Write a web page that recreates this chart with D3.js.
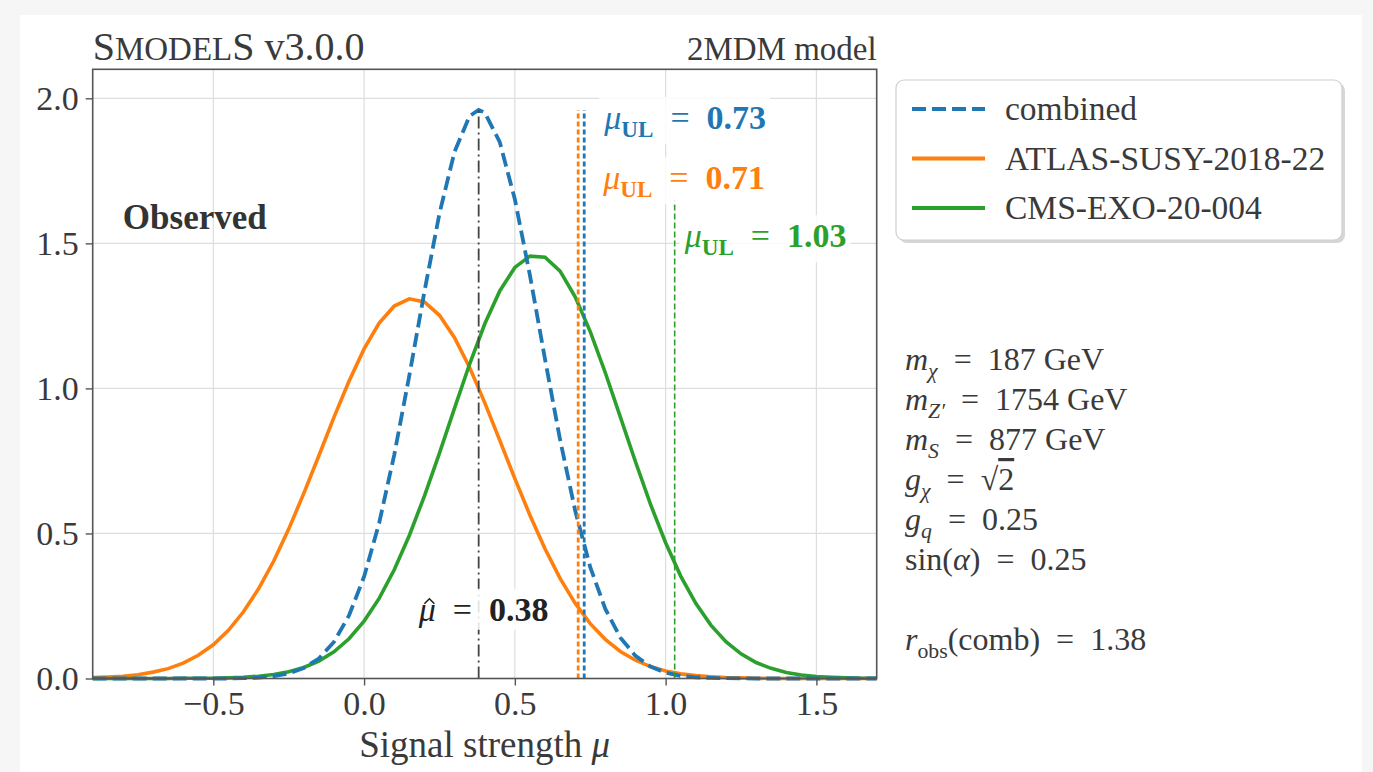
<!DOCTYPE html>
<html>
<head>
<meta charset="utf-8">
<script src="https://d3js.org/d3.v7.min.js"></script>
<style>
  body { margin: 0; background: #f6f6f6; }
  svg { display: block; font-family: "Liberation Serif", "Times New Roman", serif; }
</style>
</head>
<body>
<svg id="chart" width="1373" height="772"></svg>
<script>
// signal strength grid shared by the two single-analysis curves
var muGrid = [-0.90, -0.85, -0.80, -0.75, -0.70, -0.65, -0.60, -0.55, -0.50, -0.45,
              -0.40, -0.35, -0.30, -0.25, -0.20, -0.15, -0.10, -0.05, 0.00, 0.05,
              0.10, 0.15, 0.20, 0.25, 0.30, 0.35, 0.40, 0.45, 0.50, 0.55,
              0.60, 0.65, 0.70, 0.75, 0.80, 0.85, 0.90, 0.95, 1.00, 1.05,
              1.10, 1.15, 1.20, 1.25, 1.30, 1.35, 1.40, 1.45, 1.50, 1.55,
              1.60, 1.65, 1.70];

var atlasL = [0.003, 0.005, 0.008, 0.013, 0.022, 0.034, 0.053, 0.080, 0.116, 0.166,
              0.230, 0.309, 0.404, 0.515, 0.638, 0.768, 0.900, 1.025, 1.136, 1.225,
              1.284, 1.309, 1.298, 1.252, 1.175, 1.072, 0.951, 0.821, 0.689, 0.563,
              0.447, 0.345, 0.259, 0.189, 0.135, 0.093, 0.063, 0.041, 0.026, 0.016,
              0.010, 0.006, 0.003, 0.002, 0.001, 0, 0, 0, 0, 0,
              0, 0, 0];

var cmsL = [0, 0, 0, 0, 0, 0, 0.001, 0.001, 0.001, 0.002,
            0.004, 0.008, 0.014, 0.023, 0.038, 0.060, 0.092, 0.137, 0.198, 0.276,
            0.375, 0.493, 0.629, 0.777, 0.932, 1.084, 1.222, 1.336, 1.417, 1.456,
            1.452, 1.404, 1.316, 1.196, 1.054, 0.901, 0.747, 0.600, 0.468, 0.353,
            0.259, 0.184, 0.127, 0.085, 0.055, 0.035, 0.021, 0.012, 0.007, 0.004,
            0.002, 0.001, 0.001];

// combined curve has its own grid (includes mu-hat)
var muComb = [-0.90, -0.80, -0.70, -0.60, -0.50, -0.45, -0.40, -0.35, -0.30, -0.25,
              -0.20, -0.15, -0.10, -0.05, 0.00, 0.05, 0.10, 0.15, 0.20, 0.25,
              0.30, 0.35, 0.38, 0.40, 0.45, 0.50, 0.55, 0.60, 0.65, 0.70,
              0.75, 0.80, 0.85, 0.90, 0.95, 1.00, 1.05, 1.10, 1.15, 1.20,
              1.30, 1.40, 1.50, 1.60, 1.70];
var combL = [0, 0, 0, 0, 0, 0, 0.001, 0.003, 0.008, 0.017,
             0.036, 0.069, 0.126, 0.217, 0.351, 0.536, 0.771, 1.044, 1.333, 1.603,
             1.816, 1.939, 1.960, 1.951, 1.849, 1.652, 1.390, 1.101, 0.823, 0.579,
             0.384, 0.240, 0.141, 0.078, 0.041, 0.020, 0.009, 0.004, 0.002, 0.001,
             0, 0, 0, 0, 0];

var seriesNames = ["combined", "ATLAS-SUSY-2018-22", "CMS-EXO-20-004"];
var upperLimits = [0.73, 0.71, 1.03];
var ulTops = [1.96, 1.96, 1.65];
var muHat = 0.38;
var muHatTop = 1.96;

var xTicks = [-0.5, 0.0, 0.5, 1.0, 1.5];
var yTicks = [0.0, 0.5, 1.0, 1.5, 2.0];

var EQ = "\u2002=\u2002";
var paramLines = [
    [{t: "m", it: 1}, {t: "χ", it: 1, sub: 1}, {t: EQ + "187 GeV"}],
    [{t: "m", it: 1}, {t: "Z′", it: 1, sub: 1}, {t: EQ + "1754 GeV"}],
    [{t: "m", it: 1}, {t: "S", it: 1, sub: 1}, {t: EQ + "877 GeV"}],
    [{t: "g", it: 1}, {t: "χ", it: 1, sub: 1}, {t: EQ + "√"}, {t: "2", over: 1}],
    [{t: "g", it: 1}, {t: "q", it: 1, sub: 1}, {t: EQ + "0.25"}],
    [{t: "sin("}, {t: "α", it: 1}, {t: ")" + EQ + "0.25"}],
    null,
    [{t: "r", it: 1}, {t: "obs", sub: 1}, {t: "(comb)" + EQ + "1.38"}]
];

var colors = ["#1f77b4", "#ff7f0e", "#2ca02c"];
var textCol = "#3a3a3a";

var svg = d3.select("#chart");

// page card
svg.append("rect").attr("x", 20).attr("y", 15).attr("width", 1342).attr("height", 757).attr("fill", "#fff");

var x = d3.scaleLinear().domain([-0.9, 1.7]).range([92.7, 876.7]);
var y = d3.scaleLinear().domain([0, 2.1]).range([678.5, 69.3]);

var plot = svg.append("g");

// grid
plot.selectAll(".gx").data(xTicks).enter().append("line")
    .attr("x1", function (d) { return x(d); }).attr("x2", function (d) { return x(d); })
    .attr("y1", y(0)).attr("y2", y(2.1))
    .attr("stroke", "#dedede").attr("stroke-width", 1.2);
plot.selectAll(".gy").data(yTicks).enter().append("line")
    .attr("y1", function (d) { return y(d); }).attr("y2", function (d) { return y(d); })
    .attr("x1", x(-0.9)).attr("x2", x(1.7))
    .attr("stroke", "#dedede").attr("stroke-width", 1.2);

// curves
var line = d3.line()
    .x(function (d) { return x(d[0]); })
    .y(function (d) { return y(d[1]); });

plot.append("path").datum(d3.zip(muGrid, atlasL)).attr("d", line)
    .attr("fill", "none").attr("stroke", colors[1]).attr("stroke-width", 3.6);
plot.append("path").datum(d3.zip(muGrid, cmsL)).attr("d", line)
    .attr("fill", "none").attr("stroke", colors[2]).attr("stroke-width", 3.6);
plot.append("path").datum(d3.zip(muComb, combL)).attr("d", line)
    .attr("fill", "none").attr("stroke", colors[0]).attr("stroke-width", 3.8)
    .attr("stroke-dasharray", "14,6");

// vertical lines: upper limits and mu-hat
var ulOrder = [1, 0, 2];
ulOrder.forEach(function (i) {
    plot.append("line")
        .attr("x1", x(upperLimits[i])).attr("x2", x(upperLimits[i]))
        .attr("y1", y(0)).attr("y2", y(ulTops[i]))
        .attr("stroke", colors[i])
        .attr("stroke-width", i == 2 ? 1.6 : 2.8)
        .attr("stroke-dasharray", i == 2 ? "6,3" : "5,3");
});
plot.append("line")
    .attr("x1", x(muHat)).attr("x2", x(muHat))
    .attr("y1", y(0)).attr("y2", y(muHatTop))
    .attr("stroke", "#444").attr("stroke-width", 1.8)
    .attr("stroke-dasharray", "12,4,2,4");

// frame
plot.append("rect").attr("x", x(-0.9)).attr("y", y(2.1))
    .attr("width", x(1.7) - x(-0.9)).attr("height", y(0) - y(2.1))
    .attr("fill", "none").attr("stroke", "#555").attr("stroke-width", 1.6);

// axes
var fmt = d3.format(".1f");
var xAxis = svg.append("g").attr("transform", "translate(0," + y(0) + ")")
    .call(d3.axisBottom(x).tickValues(xTicks).tickFormat(fmt).tickSize(7).tickPadding(5));
var yAxis = svg.append("g").attr("transform", "translate(" + x(-0.9) + ",0)")
    .call(d3.axisLeft(y).tickValues(yTicks).tickFormat(fmt).tickSize(7).tickPadding(7));
[xAxis, yAxis].forEach(function (a) {
    a.select(".domain").remove();
    a.selectAll(".tick line").attr("stroke", "#555").attr("stroke-width", 1.4);
    a.selectAll(".tick text").attr("font-size", 34).attr("fill", textCol)
        .attr("font-family", "Liberation Serif, serif");
});

// rich text helper (italic / bold / subscript parts)
function richText(g, px, py, parts, size, color, anchor) {
    var t = g.append("text").attr("x", px).attr("y", py)
        .attr("font-size", size).attr("fill", color)
        .attr("text-anchor", anchor || "start");
    var shift = 0;
    parts.forEach(function (p) {
        var s = t.append("tspan").text(p.t);
        var target = p.sub ? size * 0.24 : 0;
        if (target != shift) { s.attr("dy", target - shift); shift = target; }
        if (p.sub) s.attr("font-size", size * 0.68);
        if (p.it) s.attr("font-style", "italic");
        if (p.b) s.attr("font-weight", "bold");
        if (p.over) s.attr("text-decoration", "overline");
    });
    return t;
}
function boxed(t, pad) {
    var b = t.node().getBBox();
    d3.select(t.node().parentNode).insert("rect", function () { return t.node(); })
        .attr("x", b.x - pad).attr("y", b.y - pad + 2)
        .attr("width", b.width + 2 * pad).attr("height", b.height + 2 * pad - 4)
        .attr("fill", "#fff").attr("fill-opacity", 0.85);
}

var ann = svg.append("g");
var ulLabelPos = [[x(upperLimits[0]) + 20, y(1.894)], [x(upperLimits[1]) + 25, y(1.687)], [x(upperLimits[2]) + 10, y(1.487)]];
[0, 1, 2].forEach(function (i) {
    var t = richText(ann, ulLabelPos[i][0], ulLabelPos[i][1],
        [{t: "μ", it: 1}, {t: "UL", sub: 1, b: 1}, {t: EQ}, {t: upperLimits[i].toFixed(2), b: 1}],
        34, colors[i]);
    boxed(t, 4);
});

// mu-hat label; the hat is drawn as a small chevron over the mu glyph
var hatLabel = richText(ann, x(muHat) + 5, y(0.199),
    [{t: "μ", it: 1}, {t: EQ}, {t: muHat.toFixed(2), b: 1}], 34, "#222", "middle");
boxed(hatLabel, 4);
var muExt = hatLabel.node().getExtentOfChar(0);
var hx = muExt.x + muExt.width * 0.62, hy = y(0.199) - 34 * 0.47 - 5;
ann.append("path").attr("d", "M" + (hx - 5) + "," + (hy + 4) + "L" + hx + "," + (hy - 1) + "L" + (hx + 5) + "," + (hy + 4))
    .attr("fill", "none").attr("stroke", "#222").attr("stroke-width", 1.6);

ann.append("text").attr("x", x(-0.8)).attr("y", y(1.55))
    .attr("font-size", 35).attr("font-weight", "bold").attr("fill", "#333")
    .text("Observed");

// titles
var title = svg.append("text").attr("x", x(-0.9)).attr("y", 60)
    .attr("font-size", 40).attr("fill", textCol);
title.append("tspan").text("S");
title.append("tspan").attr("font-size", 33).text("MODEL");
title.append("tspan").text("S v3.0.0");
svg.append("text").attr("x", x(1.7)).attr("y", 60).attr("text-anchor", "end")
    .attr("font-size", 33).attr("fill", textCol).text("2MDM model");

var xl = svg.append("text").attr("x", (x(-0.9) + x(1.7)) / 2).attr("y", 757)
    .attr("text-anchor", "middle").attr("font-size", 37).attr("fill", textCol);
xl.append("tspan").text("Signal strength ");
xl.append("tspan").attr("font-style", "italic").text("μ");

// legend
var lg = svg.append("g").attr("transform", "translate(896,80)");
lg.append("rect").attr("x", 3).attr("y", 3).attr("width", 446).attr("height", 160).attr("rx", 8)
    .attr("fill", "#bbb").attr("fill-opacity", 0.6);
lg.append("rect").attr("width", 446).attr("height", 160).attr("rx", 8)
    .attr("fill", "#fff").attr("stroke", "#d0d0d0").attr("stroke-width", 1.2);
seriesNames.forEach(function (name, i) {
    var ly = 29 + i * 49.5;
    lg.append("line").attr("x1", 16).attr("x2", 89).attr("y1", ly).attr("y2", ly)
        .attr("stroke", colors[i]).attr("stroke-width", 3.8)
        .attr("stroke-dasharray", i == 0 ? "14,6" : null);
    lg.append("text").attr("x", 109).attr("y", ly + 11)
        .attr("font-size", 33.5).attr("fill", textCol).text(name);
});

// parameter block
var pg = svg.append("g");
paramLines.forEach(function (parts, i) {
    if (!parts) return;
    richText(pg, 905, 370 + i * 40, parts, 32, textCol);
});
</script>
</body>
</html>
